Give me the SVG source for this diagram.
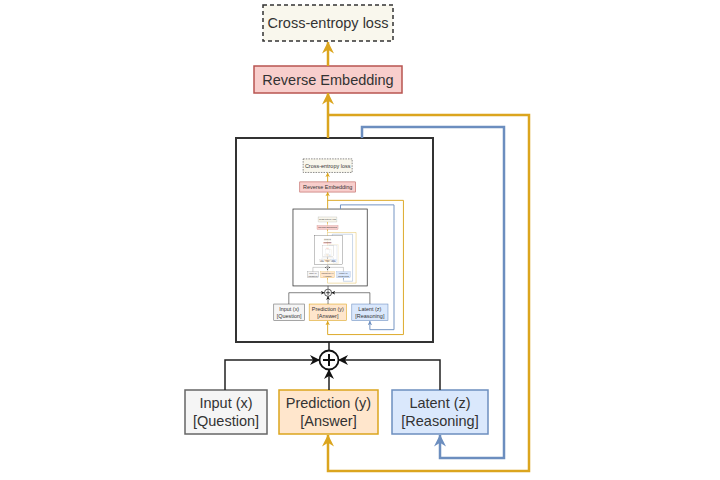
<svg xmlns="http://www.w3.org/2000/svg" xmlns:xlink="http://www.w3.org/1999/xlink" width="720" height="480" viewBox="0 0 720 480">
<style>
  text { font-family: "Liberation Sans", Arial, sans-serif; font-size: 14.5px; fill: #333333; text-anchor: middle; dominant-baseline: central; }
  .box { stroke-width: 1.5; }
  .orange { fill: none; stroke: #dba51e; stroke-width: 2.5; }
  .blue { fill: none; stroke: #6c8ebf; stroke-width: 2.5; }
  .black { fill: none; stroke: #222222; stroke-width: 1.5; }
</style>
<defs>
  <marker id="arrO" viewBox="0 0 10 10" markerUnits="userSpaceOnUse" markerWidth="13" markerHeight="12" refX="9.5" refY="5" orient="auto">
    <path d="M0,0 L10,5 L0,10 L3,5 z" fill="#dba51e"/>
  </marker>
  <marker id="arrB" viewBox="0 0 10 10" markerUnits="userSpaceOnUse" markerWidth="13" markerHeight="12" refX="9.5" refY="5" orient="auto">
    <path d="M0,0 L10,5 L0,10 L3,5 z" fill="#6c8ebf"/>
  </marker>
  <marker id="arrK" viewBox="0 0 10 10" markerUnits="userSpaceOnUse" markerWidth="10" markerHeight="10" refX="9.5" refY="5" orient="auto">
    <path d="M0,0 L10,5 L0,10 L3,5 z" fill="#111111"/>
  </marker>
</defs>
<rect width="720" height="480" fill="#ffffff"/>
<g id="level0">
  <g id="loss">
    <rect x="263" y="5" width="130" height="36" fill="#f9f7ed" stroke="#333333" stroke-width="1.5" stroke-dasharray="4 3"/>
    <text x="328" y="23">Cross-entropy loss</text>
  </g>
  <g id="reverse-embedding">
    <rect x="254" y="66" width="148" height="27" fill="#f8cecc" stroke="#b85450" stroke-width="1.5"/>
    <text x="328" y="79.5">Reverse Embedding</text>
  </g>
  <g id="recursive-block">
    <rect x="236" y="138" width="197" height="204" fill="#ffffff" stroke="#333333" stroke-width="2"/>
  </g>
  <g id="sum">
    <circle cx="329" cy="360" r="9.5" fill="#ffffff" stroke="#111111" stroke-width="1.8"/>
    <path d="M323,360 H335 M329,354 V366" stroke="#111111" stroke-width="2" fill="none"/>
  </g>
  <g id="input">
    <rect x="185" y="390" width="82" height="44" fill="#f5f5f5" stroke="#666666" stroke-width="1.5"/>
    <text x="226" y="403">Input (x)</text>
    <text x="226" y="421">[Question]</text>
  </g>
  <g id="prediction">
    <rect x="279" y="390" width="99" height="44" fill="#ffe6cc" stroke="#dba51e" stroke-width="1.5"/>
    <text x="328.5" y="403">Prediction (y)</text>
    <text x="328.5" y="421">[Answer]</text>
  </g>
  <g id="latent">
    <rect x="392" y="390" width="96" height="44" fill="#dae8fc" stroke="#6c8ebf" stroke-width="1.5"/>
    <text x="440" y="403">Latent (z)</text>
    <text x="440" y="421">[Reasoning]</text>
  </g>
  <g id="connectors">
    <path class="orange" d="M328,66 V42" marker-end="url(#arrO)"/>
    <path class="orange" d="M328,138 V93" marker-end="url(#arrO)"/>
    <path class="orange" d="M328,115 H529 V471 H328 V435" marker-end="url(#arrO)"/>
    <path class="blue" d="M362,138 V127 H504 V458 H440 V435" marker-end="url(#arrB)"/>
    <path class="black" d="M329,342 V350.5"/>
    <path class="black" d="M225,390 V360 H319.5" marker-end="url(#arrK)"/>
    <path class="black" d="M440,390 V360 H338.5" marker-end="url(#arrK)"/>
    <path class="black" d="M329,390 V369.5" marker-end="url(#arrK)"/>
  </g>
</g>
<g id="nested">
  <use xlink:href="#level0" href="#level0" transform="matrix(0.377 0 0 0.377 204 157)"/>
  <use xlink:href="#level0" href="#level0" transform="matrix(0.14213 0 0 0.14213 280.9 216.2)"/>
  <use xlink:href="#level0" href="#level0" transform="matrix(0.05358 0 0 0.05358 309.9 238.5)"/>
  <use xlink:href="#level0" href="#level0" transform="matrix(0.0202 0 0 0.0202 320.8 246.9)"/>
</g>
</svg>
